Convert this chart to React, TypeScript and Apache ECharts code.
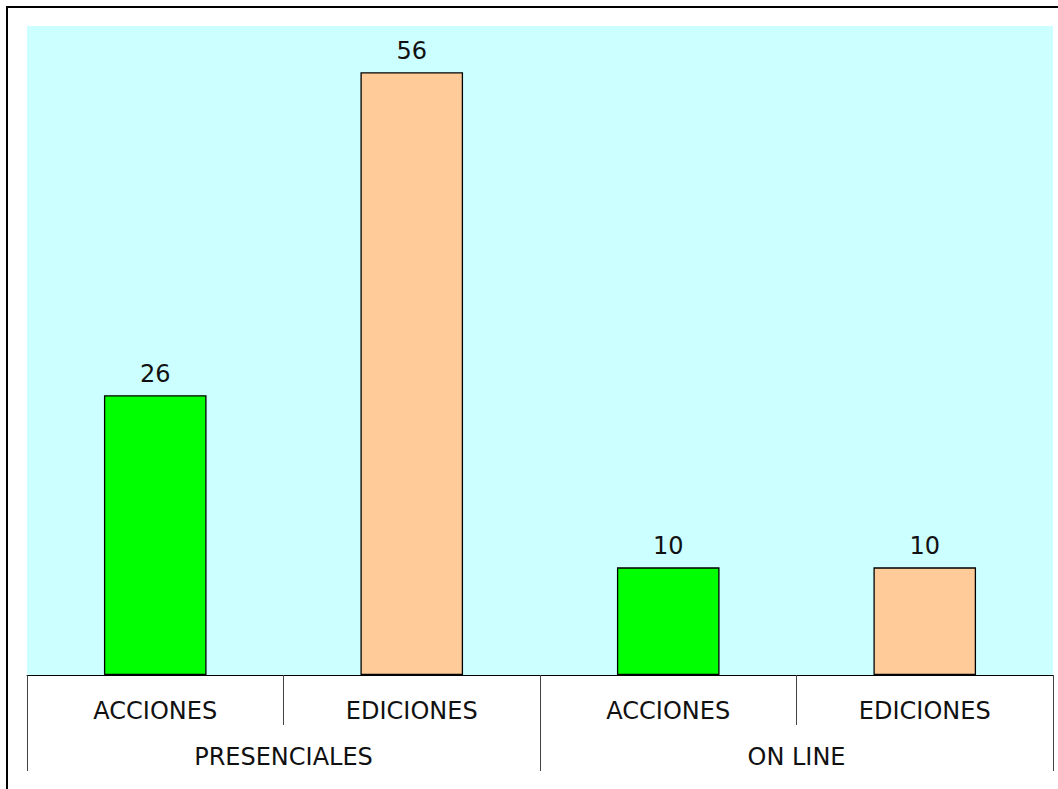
import React, { useEffect, useRef } from "react";
import * as echarts from "echarts";

const subCategories = ["ACCIONES", "EDICIONES", "ACCIONES", "EDICIONES"];
const groupCategories = ["PRESENCIALES", "ON LINE"];
const values = [26, 56, 10, 10];
const barColors = ["#00FF00", "#FFCC99", "#00FF00", "#FFCC99"];

const FONT = "'DejaVu Sans', Verdana, sans-serif";

export default function App() {
  const ref = useRef<HTMLDivElement>(null);
  useEffect(() => {
    if (!ref.current) return;
    const chart = echarts.init(ref.current, null, { renderer: "svg" });
    chart.setOption({
      animation: false,
      backgroundColor: "#ffffff",
      textStyle: { fontFamily: FONT },
      grid: {
        left: 27,
        top: 26,
        width: 1026,
        height: 649,
        show: true,
        backgroundColor: "#CCFFFF",
        borderWidth: 0,
        containLabel: false,
      },
      graphic: [
        {
          type: "rect",
          shape: { x: 7, y: 7, width: 1200, height: 900 },
          style: { fill: "none", stroke: "#000", lineWidth: 2 },
          silent: true,
          z: 100,
        },
      ],
      xAxis: [
        {
          type: "category",
          data: subCategories,
          position: "bottom",
          boundaryGap: true,
          axisLine: { show: true, lineStyle: { color: "#000", width: 1 } },
          axisTick: {
            show: true,
            interval: 0,
            length: 50,
            lineStyle: { color: "#444", width: 1 },
          },
          axisLabel: {
            interval: 0,
            margin: 24,
            fontSize: 24,
            color: "#111",
            fontFamily: FONT,
          },
          splitLine: { show: false },
        },
        {
          type: "category",
          data: groupCategories,
          position: "bottom",
          boundaryGap: true,
          axisLine: { show: false },
          axisTick: {
            show: true,
            interval: 0,
            length: 96,
            lineStyle: { color: "#444", width: 1 },
          },
          axisLabel: {
            interval: 0,
            margin: 70,
            fontSize: 24,
            color: "#111",
            fontFamily: FONT,
          },
          splitLine: { show: false },
        },
      ],
      yAxis: {
        type: "value",
        min: 0,
        max: 60.3,
        show: false,
        splitLine: { show: false },
      },
      series: [
        {
          type: "bar",
          xAxisIndex: 0,
          barWidth: "40%",
          data: values.map((v, i) => ({
            value: v,
            itemStyle: { color: barColors[i] },
          })),
          itemStyle: { borderColor: "#000", borderWidth: 1.3 },
          label: {
            show: true,
            position: "top",
            distance: 9,
            fontSize: 24,
            color: "#111",
            fontFamily: FONT,
          },
        },
      ],
    });
    return () => chart.dispose();
  }, []);
  return (
    <div
      ref={ref}
      style={{ position: "fixed", left: 0, top: 0, width: 1058, height: 789 }}
    />
  );
}
